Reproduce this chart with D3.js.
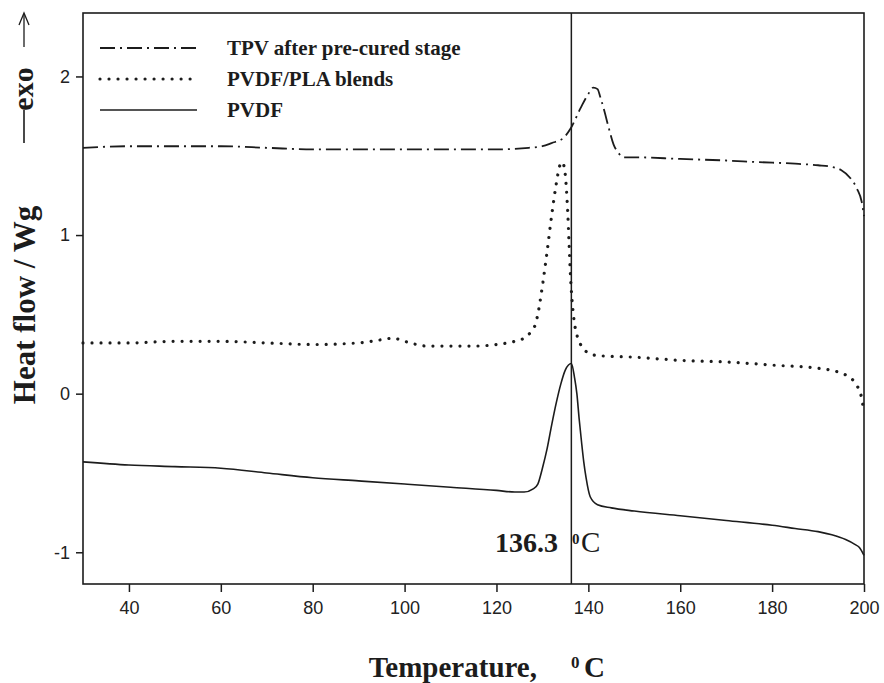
<!DOCTYPE html>
<html><head><meta charset="utf-8">
<script src="https://cdn.jsdelivr.net/npm/d3@7"></script>
<style>body{margin:0;background:#fff}svg{display:block}</style>
</head><body><svg id="c" width="884" height="683"></svg>
<script>
// ---- data ----
const pvdfT = [30,40,50,60,70,80,90,100,110,120,124,126,128,129,130,131,132,133,134,135,136.3,137,137.5,138,138.5,139,139.5,140.4,142,145,150,160,170,180,185,190,193,196,198,199,200];
const pvdfV = [-0.43,-0.45,-0.46,-0.47,-0.50,-0.53,-0.55,-0.57,-0.59,-0.61,-0.62,-0.62,-0.60,-0.57,-0.47,-0.35,-0.20,-0.06,0.06,0.15,0.19,0.10,0.0,-0.16,-0.30,-0.43,-0.53,-0.65,-0.70,-0.72,-0.74,-0.77,-0.80,-0.83,-0.85,-0.87,-0.89,-0.92,-0.95,-0.97,-1.02];
const blendT = [30,40,50,60,70,80,90,95,97.5,100,105,110,115,120,124,126,127.5,128.5,129.2,130,131,132,133,133.7,134.3,134.8,135.2,135.5,135.8,136.1,136.5,137,137.6,138.5,139.8,142,150,160,170,180,190,195,197,198.5,199.5,200];
const blendV = [0.32,0.32,0.33,0.33,0.32,0.31,0.32,0.34,0.35,0.33,0.30,0.30,0.30,0.31,0.33,0.35,0.39,0.44,0.53,0.68,0.89,1.12,1.32,1.43,1.46,1.42,1.30,1.15,0.95,0.75,0.57,0.44,0.36,0.30,0.26,0.24,0.23,0.21,0.20,0.18,0.16,0.13,0.10,0.05,-0.03,-0.12];
const tpvT = [30,40,50,60,70,80,90,100,110,120,127,130,132,134.5,136.1,138.3,140,141.1,142,142.6,143.5,144.4,145.5,146.5,147.6,150,160,170,177,185,190,193,195,197,198.5,199.5,200];
const tpvV = [1.55,1.56,1.56,1.56,1.55,1.54,1.54,1.54,1.54,1.54,1.55,1.56,1.58,1.61,1.67,1.80,1.89,1.93,1.92,1.87,1.78,1.68,1.57,1.52,1.49,1.49,1.48,1.47,1.46,1.45,1.44,1.43,1.41,1.36,1.29,1.21,1.12];
const xTicks = [40,60,80,100,120,140,160,180,200];
const yTicks = [-1,0,1,2];
const legendLabels = ["TPV after pre-cured stage","PVDF/PLA blends","PVDF"];
const peakT = 136.3;
const peakLabel = "136.3";

// ---- layout ----
const svg = d3.select("#c");
const L=83, R=864, T=13, B=584;
const x = d3.scaleLinear().domain([30,200]).range([L,R]);
const y = d3.scaleLinear().domain([-1.2,2.4]).range([B,T]);
const ink = "#1c1c1c";
const serif = "'Liberation Serif','Times New Roman',serif";
const sans = "'Liberation Sans',Arial,sans-serif";

// axes
const xa = svg.append("g").attr("transform",`translate(0,${B})`)
  .call(d3.axisBottom(x).tickValues(xTicks).tickSize(8).tickPadding(9).tickFormat(d3.format("d")));
const ya = svg.append("g").attr("transform",`translate(${L},0)`)
  .call(d3.axisLeft(y).tickValues(yTicks).tickSize(7).tickPadding(6).tickFormat(d3.format("d")));
[xa,ya].forEach(a=>{
  a.select(".domain").remove();
  a.selectAll("line").attr("stroke",ink).attr("stroke-width",1.5);
  a.selectAll("text").attr("fill","#222").style("font-family",sans).style("font-size","18px");
});
ya.selectAll("text").text(d=>d<0?"-"+Math.abs(d):d);

// frame
svg.append("rect").attr("x",L).attr("y",T).attr("width",R-L).attr("height",B-T)
  .attr("fill","none").attr("stroke",ink).attr("stroke-width",1.6);

// curves
const line = d3.line().x(d=>x(d[0])).y(d=>y(d[1])).curve(d3.curveMonotoneX);
const zip = (a,b)=>a.map((t,i)=>[t,b[i]]);
const styles = [
  {dash:"15 5 2 5", w:1.8, cap:"butt"},
  {dash:"0.01 9", w:3.2, cap:"round"},
  {dash:null, w:1.6, cap:"butt"}
];
const series = [zip(tpvT,tpvV), zip(blendT,blendV), zip(pvdfT,pvdfV)];
series.forEach((s,i)=>{
  svg.append("path").datum(s).attr("d",line).attr("fill","none")
    .attr("stroke",ink).attr("stroke-width",styles[i].w)
    .attr("stroke-linecap",styles[i].cap)
    .attr("stroke-dasharray",styles[i].dash);
});

// peak line
svg.append("line").attr("x1",x(peakT)).attr("x2",x(peakT)).attr("y1",T).attr("y2",B)
  .attr("stroke",ink).attr("stroke-width",1.5);

// legend
const ly = [48,79,110];
legendLabels.forEach((lab,i)=>{
  svg.append("line").attr("x1",100).attr("x2",197).attr("y1",ly[i]).attr("y2",ly[i])
    .attr("stroke",ink).attr("stroke-width",styles[i].w)
    .attr("stroke-linecap",styles[i].cap).attr("stroke-dasharray",styles[i].dash);
  svg.append("text").attr("x",227).attr("y",ly[i]+7).text(lab)
    .attr("fill",ink).style("font-family",serif).style("font-weight","bold").style("font-size","21px");
});

// peak label
svg.append("text").attr("x",495).attr("y",552).text(peakLabel).attr("fill",ink)
  .style("font-family",serif).style("font-weight","bold").style("font-size","28px");
svg.append("text").attr("x",572).attr("y",544).text("0").attr("fill",ink)
  .style("font-family",serif).style("font-weight","bold").style("font-size","15px");
svg.append("text").attr("x",581).attr("y",552).text("C").attr("fill",ink)
  .style("font-family",serif).style("font-size","29px");

// x title
svg.append("text").attr("x",537).attr("y",677).attr("text-anchor","end").text("Temperature,").attr("fill",ink)
  .style("font-family",serif).style("font-weight","bold").style("font-size","29px");
svg.append("text").attr("x",571).attr("y",668).text("0").attr("fill",ink)
  .style("font-family",serif).style("font-weight","bold").style("font-size","17px");
svg.append("text").attr("x",584).attr("y",677).text("C").attr("fill",ink)
  .style("font-family",serif).style("font-weight","bold").style("font-size","29px");

// y title
svg.append("text").attr("transform","translate(35,305) rotate(-90)").attr("text-anchor","middle")
  .text("Heat flow / Wg").attr("fill",ink)
  .style("font-family",serif).style("font-weight","bold").style("font-size","31px");

// exo marker
svg.append("text").attr("transform","translate(33,89) rotate(-90)").attr("text-anchor","middle")
  .text("exo").attr("fill",ink)
  .style("font-family",serif).style("font-weight","bold").style("font-size","30px");
svg.append("line").attr("x1",24).attr("x2",24).attr("y1",110).attr("y2",143).attr("stroke",ink).attr("stroke-width",1.6);
svg.append("line").attr("x1",24).attr("x2",24).attr("y1",14).attr("y2",47).attr("stroke",ink).attr("stroke-width",1.3);
svg.append("path").attr("d","M19,25 L24,13 L29,25").attr("fill","none").attr("stroke",ink).attr("stroke-width",1.3);
</script></body></html>
